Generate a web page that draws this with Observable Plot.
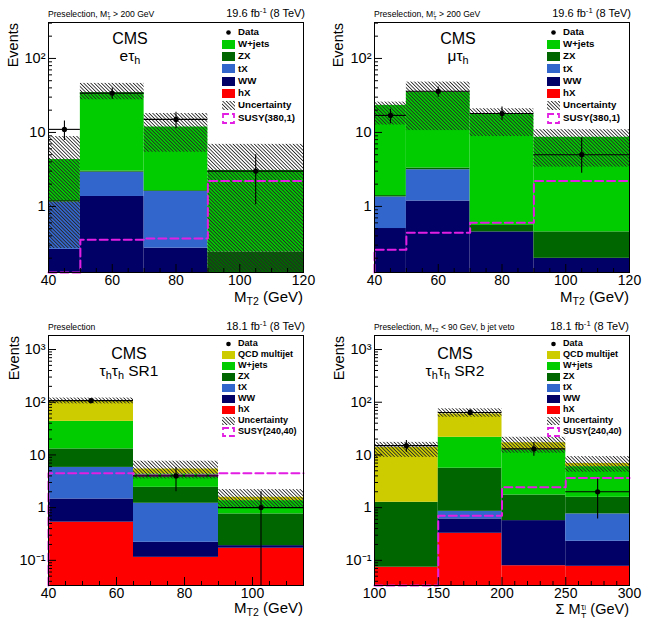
<!DOCTYPE html>
<html>
<head>
<meta charset="utf-8">
<script src="https://cdn.jsdelivr.net/npm/d3@7"></script>
<script src="https://cdn.jsdelivr.net/npm/@observablehq/plot@0.6"></script>
<style>
  body { margin: 0; background: #fff; font-family: 'Liberation Sans', Arial, Helvetica, sans-serif; }
  #fig { position: relative; width: 649px; height: 618px; overflow: hidden; background: #fff; }
  .panel { position: absolute; width: 324px; }
  .panel svg { display: block; }
  .t { position: absolute; white-space: nowrap; line-height: 1; color: #000; }
  .t sub { font-size: 0.7em; vertical-align: -0.3em; line-height: 0; }
  .t sup { font-size: 0.7em; vertical-align: 0.55em; line-height: 0; }
  .t .ss { display: inline-flex; flex-direction: column; font-size: 0.6em; line-height: 1.05; vertical-align: 0.45em; margin-left: 0.05em; }
  .t .ss sub { font-size: 0.75em; vertical-align: 0; line-height: 1; }
  .lg { font-weight: bold; }
  .sw { position: absolute; }
  .ylab { writing-mode: vertical-rl; transform: rotate(180deg); }
</style>
</head>
<body>
<svg width="0" height="0" style="position:absolute">
  <defs>
    <pattern id="hatch" width="2.5" height="10" patternUnits="userSpaceOnUse" patternTransform="rotate(-45)">
      <rect x="0" y="0" width="0.85" height="10" fill="#262626"></rect>
    </pattern>
  </defs>
</svg>
<div id="fig"></div>
<script>
// Background processes, bottom of the stack first
const layers = ["hX", "WW", "tX", "ZX", "W+jets", "QCD multijet"];
const layerColors = ["#ff0000", "#000066", "#3366cc", "#006600", "#00cc00", "#cccc00"];

// e tau_h channel, M_T2 bins
const etEdges = [40, 50, 70, 90, 120];
const etHX = [0.003, 0.003, 0.003, 0.003];
const etWW = [0.26, 1.36, 0.27, 0.01];
const etTX = [0.88, 1.54, 1.32, 0];
const etZX = [0.06, 0.10, 0.04, 0.23];
const etWjets = [3.1, 31.4, 10.2, 2.82];
const etUncLo = [0.27, 27.6, 5.4, 0.13];
const etUncHi = [8.8, 46, 18, 6.9];
const etData = [11, 34, 15, 3];
const etDataLo = [7.8, 28, 11.2, 1.05];
const etDataHi = [14.3, 40, 18.7, 5.0];
const etSusy = [0.128, 0.355, 0.37, 2.2];

// mu tau_h channel, M_T2 bins
const mtEdges = [40, 50, 70, 90, 120];
const mtHX = [0.003, 0.003, 0.003, 0.003];
const mtWW = [0.50, 1.18, 0.45, 0.196];
const mtTX = [0.84, 1.95, 0, 0];
const mtZX = [0.06, 0.17, 0.10, 0.254];
const mtWjets = [21.8, 31.7, 17.35, 8.15];
const mtUncLo = [12.6, 10.6, 8.8, 3.4];
const mtUncHi = [25.7, 47.9, 20.9, 10.9];
const mtData = [17, 36, 18, 5];
const mtDataLo = [13.1, 30, 14.5, 2.8];
const mtDataHi = [20.5, 41, 22, 8.4];
const mtSusy = [0.26, 0.44, 0.6, 2.2];

// tau_h tau_h SR1, M_T2 bins
const tt1Edges = [40, 65, 90, 115];
const tt1HX = [0.53, 0.114, 0.17];
const tt1WW = [0.93, 0.106, 0.02];
const tt1TX = [4.34, 0.99, 0];
const tt1ZX = [7.2, 1.22, 0.57];
const tt1Wjets = [30.4, 1.93, 0.6];
const tt1QCD = [60.6, 1.04, 0.21];
const tt1UncLo = [93, 3.5, 1.01];
const tt1UncHi = [120, 7.6, 2.2];
const tt1Data = [107, 4, 1];
const tt1DataLo = [97, 2.0, 0];
const tt1DataHi = [117, 5.8, 2.0];
const tt1Susy = [4.5, 4.05, 4.5];

// tau_h tau_h SR2, sum of M_T bins
const tt2Edges = [100, 150, 200, 250, 300];
const tt2HX = [0.074, 0.326, 0.079, 0.077];
const tt2WW = [0, 0.284, 0.488, 0.153];
const tt2TX = [0, 0.24, 0, 0.53];
const tt2ZX = [1.19, 4.75, 1.17, 0.81];
const tt2Wjets = [0, 16, 10.8, 4.43];
const tt2QCD = [12.6, 38.4, 4.5, 0.9];
const tt2UncLo = [9.0, 52, 10.8, 4.7];
const tt2UncHi = [17.3, 75, 21.6, 9.3];
const tt2Data = [15, 64, 13, 2];
const tt2DataLo = [11.2, 56, 9.4, 0.61];
const tt2DataHi = [18.7, 72, 17.3, 3.5];
const tt2Susy = [0.0333, 0.70, 2.43, 3.66];

// Tick labels
const ltYTicks = [1, 10, 100];
const ttYTicks = [0.1, 1, 10, 100, 1000];
const mt2XTicks = [40, 60, 80, 100, 120];
const tt1XTicks = [40, 60, 80, 100];
const tt2XTicks = [100, 150, 200, 250, 300];
const yTickText = {0.1: "10\u207B\u00B9", 1: "1", 10: "10", 100: "10\u00B2", 1000: "10\u00B3"};

// Legend entries
const ltLegend = ["Data", "W+jets", "ZX", "tX", "WW", "hX", "Uncertainty", "SUSY(380,1)"];
const ttLegend = ["Data", "QCD multijet", "W+jets", "ZX", "tX", "WW", "hX", "Uncertainty", "SUSY(240,40)"];

const fig = document.getElementById("fig");

// symbol with a superscript stacked over a subscript
const stacked = (sup, sub) => `<span class="ss"><span>${sup}</span><span>${sub}</span></span>`;

function addText(div, html, o) {
  const el = document.createElement("div");
  el.className = "t" + (o.cls ? " " + o.cls : "");
  el.innerHTML = html;
  el.style.fontSize = o.size + "px";
  if (o.weight) el.style.fontWeight = o.weight;
  el.style.top = (o.cy - o.size * 0.55) + "px";
  if (o.right != null) el.style.right = (o.w - o.right) + "px";
  else if (o.center != null) { el.style.left = o.center + "px"; el.style.transform = "translateX(-50%)"; }
  else el.style.left = o.left + "px";
  div.appendChild(el);
  return el;
}

function buildPanel(cfg) {
  const div = document.createElement("div");
  div.className = "panel";
  div.style.left = cfg.left + "px";
  div.style.top = cfg.top + "px";
  div.style.height = cfg.h + "px";
  fig.appendChild(div);

  const m = cfg.margins;
  const fw = cfg.w - m.left - m.right, fh = cfg.h - m.top - m.bottom;
  const [ymin, ymax] = cfg.yDomain;
  const cl = v => Math.max(v, ymin);
  const nb = cfg.edges.length - 1;
  const bins = d3.range(nb).map(i => ({x1: cfg.edges[i], x2: cfg.edges[i + 1], xc: (cfg.edges[i] + cfg.edges[i + 1]) / 2}));

  // stacked background rectangles
  const rects = [];
  bins.forEach((b, i) => {
    let cum = 0;
    cfg.stack.forEach((vals, j) => {
      if (!vals) return;
      const lo = cum;
      cum += vals[i];
      if (vals[i] > 0) rects.push({...b, layer: layers[j], y1: cl(lo), y2: cl(cum)});
    });
  });
  const band = bins.map((b, i) => ({...b, lo: cl(cfg.uncLo[i]), hi: cl(cfg.uncHi[i])}));
  const pts = bins.map((b, i) => ({...b, v: cfg.data[i], lo: cl(cfg.dataLo[i]), hi: cl(cfg.dataHi[i])}));
  const susy = [];
  if (cfg.susyFromFloor) susy.push({x: cfg.edges[0], y: ymin});
  bins.forEach((b, i) => susy.push({x: b.x1, y: cl(cfg.susy[i])}));
  susy.push({x: cfg.edges[nb], y: cl(cfg.susy[nb - 1])});

  // log minor ticks and linear minor ticks
  const minorY = [];
  for (let e = -3; e <= 4; e++) for (let k = 2; k <= 9; k++) {
    const v = +(k * Math.pow(10, e)).toPrecision(3);
    if (v > ymin && v < ymax) minorY.push(v);
  }
  const [x0, x1] = cfg.xDomain;
  const minorX = d3.range(x0, x1 + 1e-9, cfg.xMinorStep).filter(v => !cfg.xTicks.includes(v));

  const svg = Plot.plot({
    width: cfg.w,
    height: cfg.h,
    marginLeft: m.left, marginRight: m.right, marginTop: m.top, marginBottom: m.bottom,
    x: {domain: cfg.xDomain},
    y: {type: "log", domain: cfg.yDomain},
    color: {domain: layers, range: layerColors},
    style: {fontFamily: "'Liberation Sans', Arial, Helvetica, sans-serif", background: "transparent", color: "black"},
    marks: [
      Plot.rect(rects, {x1: "x1", x2: "x2", y1: "y1", y2: "y2", fill: "layer"}),
      Plot.rect(band, {x1: "x1", x2: "x2", y1: "lo", y2: "hi", fill: "url(#hatch)"}),
      Plot.line(susy, {x: "x", y: "y", curve: "step-after", stroke: "#e21ee2", strokeWidth: 2, strokeDasharray: "8,4"}),
      Plot.ruleY(pts, {y: "v", x1: "x1", x2: "x2", stroke: "black", strokeWidth: 1.1}),
      Plot.ruleX(pts, {x: "xc", y1: "lo", y2: "hi", stroke: "black", strokeWidth: 1.1}),
      Plot.dot(pts, {x: "xc", y: "v", r: 2.6, fill: "black", stroke: "none"}),
      Plot.tickY(cfg.yTicks, {insetRight: fw - 8, stroke: "black"}),
      Plot.tickY(minorY, {insetRight: fw - 4, stroke: "black"}),
      Plot.tickX(cfg.xTicks, {insetTop: fh - 8, stroke: "black"}),
      Plot.tickX(minorX, {insetTop: fh - 4, stroke: "black"}),
      Plot.frame({stroke: "black", strokeWidth: 1}),
      Plot.axisY(cfg.yTicks, {tickSize: 0, tickPadding: 3, tickFormat: v => yTickText[v], fontSize: 14.5, label: null}),
      Plot.axisX(cfg.xTicks, {tickSize: 0, tickPadding: 3, fontSize: 14, label: null})
    ]
  });
  div.appendChild(svg);

  // header texts
  addText(div, cfg.selection, {left: m.left, cy: cfg.headerY, size: cfg.selSize});
  addText(div, cfg.lumi, {right: cfg.lumiRight, w: cfg.w, cy: cfg.headerY - 1, size: 11});

  // axis titles
  const ev = document.createElement("div");
  ev.className = "t ylab";
  ev.textContent = "Events";
  ev.style.fontSize = "14.5px";
  ev.style.left = (cfg.evX - 7) + "px";
  ev.style.top = (m.top + 1) + "px";
  div.appendChild(ev);
  addText(div, cfg.xLabel, {right: cfg.w - m.right, w: cfg.w, cy: cfg.xLabelY, size: cfg.xLabelSize || 15});

  // experiment and channel
  addText(div, "CMS", {center: cfg.labelX, cy: cfg.cmsY, size: 16});
  addText(div, cfg.channel, {center: cfg.labelX, cy: cfg.cmsY + cfg.chanGap, size: 15.5});

  // legend
  cfg.legend.forEach((name, i) => {
    const cy = cfg.legendTop + i * cfg.legendStep;
    const sw = document.createElement("div");
    sw.className = "sw";
    const sh = cfg.swatchH;
    sw.style.left = "222px";
    sw.style.top = (cy - sh / 2) + "px";
    sw.style.width = "13px";
    sw.style.height = sh + "px";
    const li = layers.indexOf(name);
    if (name === "Data") {
      sw.innerHTML = `<svg width="13" height="${sh}"><circle cx="6.5" cy="${sh / 2}" r="2.3" fill="black"/></svg>`;
    } else if (name === "Uncertainty") {
      sw.innerHTML = `<svg width="13" height="${sh}"><rect width="13" height="${sh}" fill="url(#hatch)"/></svg>`;
    } else if (name.startsWith("SUSY")) {
      sw.innerHTML = `<svg width="13" height="${sh + 2}" style="margin-top:-1px"><rect x="1" y="1" width="11" height="${sh}" fill="none" stroke="#e21ee2" stroke-width="1.8" stroke-dasharray="6,3"/></svg>`;
    } else {
      sw.style.background = layerColors[li];
    }
    div.appendChild(sw);
    addText(div, name, {left: 238, cy: cy, size: cfg.legendFont, cls: "lg"});
  });
}

const stackLT = (hx, ww, tx, zx, wj) => [hx, ww, tx, zx, wj, null];

buildPanel({
  left: 0, top: 0, w: 324, h: 309,
  margins: {left: 48, right: 21, top: 22, bottom: 37},
  edges: etEdges, stack: stackLT(etHX, etWW, etTX, etZX, etWjets),
  uncLo: etUncLo, uncHi: etUncHi, data: etData, dataLo: etDataLo, dataHi: etDataHi,
  susy: etSusy, susyFromFloor: false,
  xDomain: [40, 120], xTicks: mt2XTicks, xMinorStep: 5,
  yDomain: [0.128, 306], yTicks: ltYTicks,
  selection: "Preselection, M" + stacked("\u03C4", "T") + " &gt; 200 GeV", selSize: 8.6,
  lumi: "19.6 fb<sup>-1</sup> (8 TeV)", lumiRight: 305, headerY: 15,
  evX: 13, xLabel: "M<sub>T2</sub> (GeV)", xLabelY: 297,
  labelX: 130, cmsY: 40, chanGap: 17, channel: "e\u03C4<sub>h</sub>",
  legend: ltLegend, legendTop: 32, legendStep: 12.3, legendFont: 9.7, swatchH: 9
});

buildPanel({
  left: 325, top: 0, w: 324, h: 309,
  margins: {left: 49, right: 20, top: 22, bottom: 37},
  edges: mtEdges, stack: stackLT(mtHX, mtWW, mtTX, mtZX, mtWjets),
  uncLo: mtUncLo, uncHi: mtUncHi, data: mtData, dataLo: mtDataLo, dataHi: mtDataHi,
  susy: mtSusy, susyFromFloor: true,
  xDomain: [40, 120], xTicks: mt2XTicks, xMinorStep: 5,
  yDomain: [0.128, 306], yTicks: ltYTicks,
  selection: "Preselection, M" + stacked("\u2113", "T") + " &gt; 200 GeV", selSize: 8.6,
  lumi: "19.6 fb<sup>-1</sup> (8 TeV)", lumiRight: 306, headerY: 15,
  evX: 13, xLabel: "M<sub>T2</sub> (GeV)", xLabelY: 297,
  labelX: 133, cmsY: 40, chanGap: 17, channel: "\u03BC\u03C4<sub>h</sub>",
  legend: ltLegend, legendTop: 32, legendStep: 12.3, legendFont: 9.7, swatchH: 9
});

buildPanel({
  left: 0, top: 310, w: 324, h: 308,
  margins: {left: 48, right: 21, top: 25, bottom: 33},
  edges: tt1Edges, stack: [tt1HX, tt1WW, tt1TX, tt1ZX, tt1Wjets, tt1QCD],
  uncLo: tt1UncLo, uncHi: tt1UncHi, data: tt1Data, dataLo: tt1DataLo, dataHi: tt1DataHi,
  susy: tt1Susy, susyFromFloor: true,
  xDomain: [40, 115], xTicks: tt1XTicks, xMinorStep: 5,
  yDomain: [0.0333, 1845], yTicks: ttYTicks,
  selection: "Preselection", selSize: 8.6,
  lumi: "18.1 fb<sup>-1</sup> (8 TeV)", lumiRight: 305, headerY: 18,
  evX: 14, xLabel: "M<sub>T2</sub> (GeV)", xLabelY: 298.5,
  labelX: 129, cmsY: 45, chanGap: 17, channel: "\u03C4<sub>h</sub>\u03C4<sub>h</sub> SR1",
  legend: ttLegend, legendTop: 34, legendStep: 11.05, legendFont: 9.1, swatchH: 8
});

buildPanel({
  left: 325, top: 310, w: 324, h: 308,
  margins: {left: 49, right: 20, top: 25, bottom: 33},
  edges: tt2Edges, stack: [tt2HX, tt2WW, tt2TX, tt2ZX, tt2Wjets, tt2QCD],
  uncLo: tt2UncLo, uncHi: tt2UncHi, data: tt2Data, dataLo: tt2DataLo, dataHi: tt2DataHi,
  susy: tt2Susy, susyFromFloor: false,
  xDomain: [100, 300], xTicks: tt2XTicks, xMinorStep: 10,
  yDomain: [0.0333, 1845], yTicks: ttYTicks,
  selection: "Preselection, M<sub>T2</sub> &lt; 90 GeV, b jet veto", selSize: 8.4,
  lumi: "18.1 fb<sup>-1</sup> (8 TeV)", lumiRight: 304, headerY: 18,
  evX: 14, xLabel: "\u03A3 M" + stacked("\u03C4<sub>i</sub>", "T") + " (GeV)", xLabelY: 300, xLabelSize: 14.5,
  labelX: 130, cmsY: 45, chanGap: 17, channel: "\u03C4<sub>h</sub>\u03C4<sub>h</sub> SR2",
  legend: ttLegend, legendTop: 34, legendStep: 11.05, legendFont: 9.1, swatchH: 8
});
</script>
</body>
</html>
